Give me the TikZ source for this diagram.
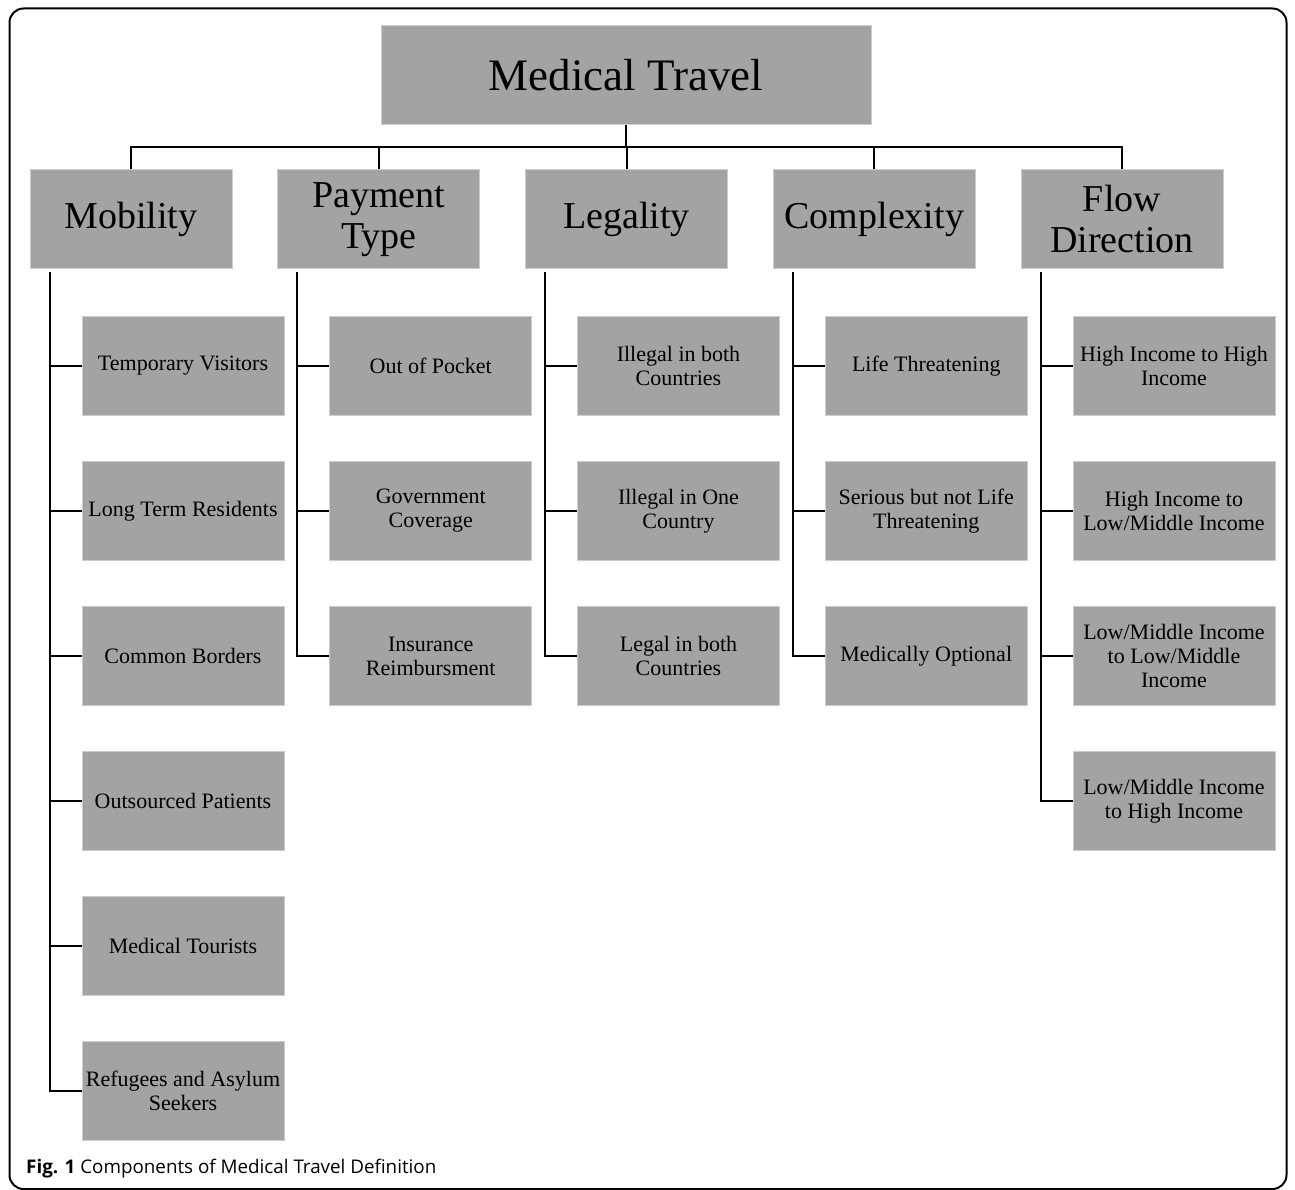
\documentclass[tikz,border=0pt]{standalone}
\usepackage{fontspec}
\setmainfont{Liberation Serif}
\newfontfamily\capfont{Open Sans}
\usetikzlibrary{positioning, calc}
\definecolor{boxgray}{RGB}{163,163,163}
\definecolor{boxedge}{RGB}{205,205,205}

\begin{document}
\begin{tikzpicture}[x=1pt, y=-1pt]
    \tikzstyle{topbox} = [rectangle, fill=boxgray, draw=boxedge, line width=1pt, inner sep=0pt, minimum width=490pt, minimum height=99pt, font=\fontsize{45}{48}\selectfont]
    \tikzstyle{catbox} = [rectangle, fill=boxgray, draw=boxedge, line width=1pt, inner sep=0pt, minimum width=202pt, minimum height=99pt, align=center, font=\fontsize{38}{41}\selectfont]
    \tikzstyle{subbox} = [rectangle, fill=boxgray, draw=boxedge, line width=1pt, inner sep=0pt, minimum width=202pt, minimum height=99pt, align=center, font=\fontsize{22}{24}\selectfont]
    \tikzstyle{link} = [draw=black, line width=2pt]

    \useasboundingbox (0,0) rectangle (1295,1190);
    \draw[line width=2pt, rounded corners=14pt] (9.5,8.5) rectangle (1286.5,1189);

    \node[topbox] (top) at (626,75.5) {Medical Travel};

    \foreach \col/\txt [count=\c] in {mob/Mobility, pay/{Payment\\Type}, leg/Legality, cpx/Complexity, flow/{Flow\\Direction}}{
        \node[catbox] (\col) at ({131+(\c-1)*247.75},219.5) {\txt};
        \draw[link] (\col.north) -- ++(0,-22) -| (top.south);
    }

    % sub categories
    \foreach \txt [count=\i] in {Temporary Visitors, Long Term Residents, Common Borders, Outsourced Patients, Medical Tourists, {Refugees and Asylum\\Seekers}}
        \node[subbox] (mob\i) at (183,{366+(\i-1)*145}) {\txt};
    \foreach \txt [count=\i] in {Out of Pocket, {Government\\Coverage}, {Insurance\\Reimbursment}}
        \node[subbox] (pay\i) at (430.75,{366+(\i-1)*145}) {\txt};
    \foreach \txt [count=\i] in {{Illegal in both\\Countries}, {Illegal in One\\Country}, {Legal in both\\Countries}}
        \node[subbox] (leg\i) at (678.5,{366+(\i-1)*145}) {\txt};
    \foreach \txt [count=\i] in {Life Threatening, {Serious but not Life\\Threatening}, Medically Optional}
        \node[subbox] (cpx\i) at (926.25,{366+(\i-1)*145}) {\txt};
    \foreach \txt [count=\i] in {{High Income to High\\Income}, {High Income to\\Low/Middle Income}, {Low/Middle Income\\to Low/Middle\\Income}, {Low/Middle Income\\to High Income}}
        \node[subbox] (flow\i) at (1174,{366+(\i-1)*145}) {\txt};

    % trunks and stubs
    \foreach \col/\n in {mob/6, pay/3, leg/3, cpx/3, flow/4}{
        \draw[link] ($(\col.south west)+(20,3)$) |- (\col\n.west);
        \foreach \i in {1,...,\n}
            \draw[link] (\col\i.west) -- ++(-32,0);
    }

    \node[anchor=west, inner sep=0pt, font=\capfont\fontsize{18.8}{22}\selectfont] (cap) at (26,1169) {\textbf{Fig. 1} Components of Medical Travel Definition};
\end{tikzpicture}
\end{document}
